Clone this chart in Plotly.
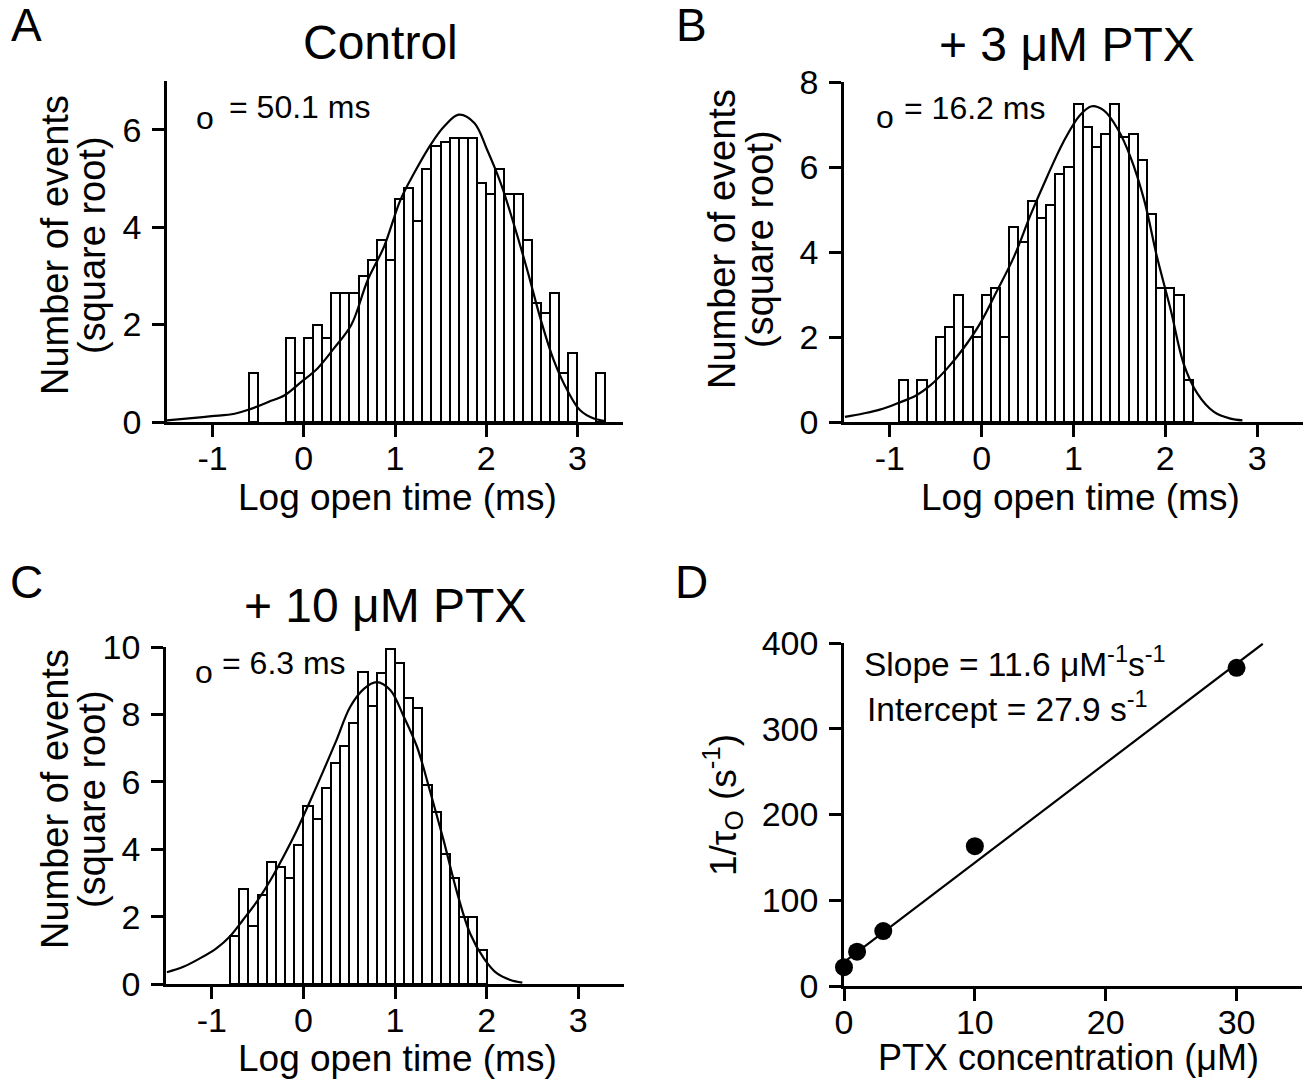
import plotly.graph_objects as go

# ---------------- data ----------------
# Panel A (Control): bin centres (log ms) and sqrt(counts)
a_x = [-0.55, -0.15, -0.05, 0.05, 0.15, 0.25, 0.35, 0.45, 0.55, 0.65, 0.75, 0.85, 0.95,
       1.05, 1.15, 1.25, 1.35, 1.45, 1.55, 1.65, 1.75, 1.85, 1.95, 2.05, 2.15, 2.25, 2.35,
       2.45, 2.55, 2.65, 2.75, 2.85, 2.95, 3.25]
a_y = [1.0, 1.73, 1.0, 1.73, 2.0, 1.73, 2.65, 2.65, 2.65, 3.0, 3.32, 3.74, 3.32,
       4.58, 4.80, 4.12, 5.20, 5.66, 5.74, 5.83, 5.83, 5.83, 4.90, 4.69, 5.20, 4.69, 4.69,
       3.74, 2.45, 2.24, 2.65, 1.0, 1.41, 1.0]
a_fit_x = [-1.51, -1.23, -1.01, -0.76, -0.58, -0.39, -0.21, -0.03, 0.15, 0.33, 0.52, 0.70,
           0.88, 1.06, 1.21, 1.39, 1.54, 1.70, 1.87, 2.01, 2.16, 2.30, 2.45, 2.60, 2.74,
           2.89, 3.03, 3.18, 3.31]
a_fit_y = [0.03, 0.08, 0.12, 0.17, 0.27, 0.41, 0.55, 0.82, 1.10, 1.51, 1.99, 2.91,
           3.60, 4.56, 5.11, 5.69, 6.07, 6.31, 6.14, 5.59, 4.90, 4.08, 3.12, 2.09, 1.27,
           0.65, 0.24, 0.07, 0.02]

# Panel B (+3 uM PTX)
b_x = [-0.85, -0.75, -0.65, -0.55, -0.45, -0.35, -0.25, -0.15, -0.05, 0.05, 0.15, 0.25,
       0.35, 0.45, 0.55, 0.65, 0.75, 0.85, 0.95, 1.05, 1.15, 1.25, 1.35, 1.45, 1.55,
       1.65, 1.75, 1.85, 1.95, 2.05, 2.15, 2.25]
b_y = [1.0, 0.0, 1.0, 0.0, 2.0, 2.24, 3.0, 2.24, 2.0, 3.0, 3.16, 2.0,
       4.58, 4.24, 5.20, 4.80, 5.10, 5.83, 6.0, 7.48, 6.93, 6.48, 6.78, 7.48, 6.71,
       6.78, 6.16, 4.90, 3.16, 3.16, 3.0, 1.0]
b_fit_x = [-1.49, -1.29, -1.11, -0.93, -0.71, -0.56, -0.38, -0.20, -0.02, 0.16, 0.35, 0.53,
           0.71, 0.89, 1.07, 1.20, 1.33, 1.48, 1.62, 1.77, 1.91, 2.06, 2.20, 2.35, 2.53,
           2.71, 2.84]
b_fit_y = [0.12, 0.20, 0.29, 0.43, 0.63, 0.86, 1.25, 1.73, 2.31, 3.06, 3.88, 4.86,
           5.76, 6.59, 7.22, 7.43, 7.33, 6.90, 6.24, 5.22, 3.88, 2.63, 1.37, 0.67, 0.24,
           0.08, 0.04]

# Panel C (+10 uM PTX)
c_x = [-0.75, -0.65, -0.55, -0.45, -0.35, -0.25, -0.15, -0.05, 0.05, 0.15, 0.25, 0.35,
       0.45, 0.55, 0.65, 0.75, 0.85, 0.95, 1.05, 1.15, 1.25, 1.35, 1.45, 1.55, 1.65,
       1.75, 1.85, 1.95]
c_y = [1.41, 2.83, 1.73, 2.65, 3.61, 3.46, 3.16, 4.12, 5.29, 4.90, 5.83, 6.56,
       7.07, 7.75, 9.27, 8.25, 9.22, 9.95, 9.54, 8.49, 8.19, 5.92, 5.10, 3.87, 3.16,
       2.0, 2.0, 1.0]
c_fit_x = [-1.49, -1.31, -1.13, -0.95, -0.80, -0.66, -0.51, -0.36, -0.22, -0.07, 0.07, 0.22,
           0.36, 0.51, 0.66, 0.80, 0.95, 1.09, 1.24, 1.38, 1.53, 1.68, 1.82, 1.97, 2.11,
           2.26, 2.39]
c_fit_y = [0.35, 0.51, 0.76, 1.06, 1.42, 1.90, 2.44, 3.08, 3.77, 4.57, 5.41, 6.34,
           7.23, 8.22, 8.76, 8.96, 8.72, 7.97, 7.04, 5.75, 4.27, 2.69, 1.50, 0.76, 0.32,
           0.12, 0.04]

# Panel D: 1/tau_o vs PTX concentration
d_conc = [0, 1, 3, 10, 30]
d_rate = [22, 40, 64, 163, 371]
d_fit_x = [0, 32]
d_fit_y = [27.9, 399.1]

hist_xticks = [-1, 0, 1, 2, 3]
hist_xticktext = ["-1", "0", "1", "2", "3"]
a_yticks = [0, 2, 4, 6]
b_yticks = [0, 2, 4, 6, 8]
c_yticks = [0, 2, 4, 6, 8, 10]
d_xticks = [0, 10, 20, 30]
d_yticks = [0, 100, 200, 300, 400]

# ---------------- figure ----------------
W, H = 1310, 1086
FONT = "Liberation Sans, Arial, Helvetica, sans-serif"


def fx(px):
    return px / W


def fy(py):
    return 1 - py / H


fig = go.Figure()

bar_style = dict(marker=dict(color="white", line=dict(color="black", width=2)),
                 width=0.1, showlegend=False, hoverinfo="skip")
fit_style = dict(mode="lines", line=dict(color="black", width=2.2, shape="spline"),
                 showlegend=False, hoverinfo="skip")

fig.add_trace(go.Bar(x=a_x, y=a_y, xaxis="x", yaxis="y", **bar_style))
fig.add_trace(go.Scatter(x=a_fit_x, y=a_fit_y, xaxis="x", yaxis="y", **fit_style))
fig.add_trace(go.Bar(x=b_x, y=b_y, xaxis="x2", yaxis="y2", **bar_style))
fig.add_trace(go.Scatter(x=b_fit_x, y=b_fit_y, xaxis="x2", yaxis="y2", **fit_style))
fig.add_trace(go.Bar(x=c_x, y=c_y, xaxis="x3", yaxis="y3", **bar_style))
fig.add_trace(go.Scatter(x=c_fit_x, y=c_fit_y, xaxis="x3", yaxis="y3", **fit_style))
fig.add_trace(go.Scatter(x=d_fit_x, y=d_fit_y, xaxis="x4", yaxis="y4", mode="lines",
                         line=dict(color="black", width=2.2), showlegend=False,
                         hoverinfo="skip", cliponaxis=False))
fig.add_trace(go.Scatter(x=d_conc, y=d_rate, xaxis="x4", yaxis="y4", mode="markers",
                         marker=dict(color="black", size=18), showlegend=False,
                         cliponaxis=False))

axis_common = dict(showline=True, linecolor="black", linewidth=2.5, ticks="outside",
                   ticklen=12, tickwidth=2.5, tickcolor="black", showgrid=False,
                   zeroline=False, tickfont=dict(size=34, color="black", family=FONT))
xstyle = dict(axis_common, ticklabelstandoff=-8)
ystyle = dict(axis_common, ticklabelstandoff=4)

doms = {
    "A": ((167, 623), (81, 422)),
    "B": ((844, 1303), (82, 422)),
    "C": ((166, 624), (647, 984)),
    "D": ((844, 1302), (643, 986)),
}


def xd(k):
    return [fx(doms[k][0][0]), fx(doms[k][0][1])]


def yd(k):
    return [fy(doms[k][1][1]), fy(doms[k][1][0])]


fig.update_layout(
    width=W, height=H, margin=dict(l=0, r=0, t=0, b=0, autoexpand=False),
    paper_bgcolor="white", plot_bgcolor="white", bargap=0,
    font=dict(family=FONT, color="black"),
    xaxis=dict(domain=xd("A"), anchor="y", range=[-1.5, 3.5], tickvals=hist_xticks,
               ticktext=hist_xticktext, **xstyle),
    yaxis=dict(domain=yd("A"), anchor="x", range=[0, 7], tickvals=a_yticks, **ystyle),
    xaxis2=dict(domain=xd("B"), anchor="y2", range=[-1.5, 3.5], tickvals=hist_xticks,
                ticktext=hist_xticktext, **xstyle),
    yaxis2=dict(domain=yd("B"), anchor="x2", range=[0, 8], tickvals=b_yticks, **ystyle),
    xaxis3=dict(domain=xd("C"), anchor="y3", range=[-1.5, 3.5], tickvals=hist_xticks,
                ticktext=hist_xticktext, **xstyle),
    yaxis3=dict(domain=yd("C"), anchor="x3", range=[0, 10], tickvals=c_yticks, **ystyle),
    xaxis4=dict(domain=xd("D"), anchor="y4", range=[0, 35], tickvals=d_xticks, **xstyle),
    yaxis4=dict(domain=yd("D"), anchor="x4", range=[0, 400], tickvals=d_yticks, **ystyle),
)

ann = []


def text(px, py, s, size, xanchor="center", yanchor="middle", angle=0):
    ann.append(dict(x=fx(px), y=fy(py), xref="paper", yref="paper", text=s,
                    showarrow=False, xanchor=xanchor, yanchor=yanchor, textangle=angle,
                    font=dict(size=size, color="black", family=FONT)))


# panel letters
text(26, 25, "A", 46)
text(692, 25, "B", 46)
text(26, 582, "C", 46)
text(692, 582, "D", 46)
# titles
text(380, 42, "Control", 48)
text(1067, 45, "+ 3 μM PTX", 48)
text(385, 605, "+ 10 μM PTX", 48)
# tau annotations
text(205, 118, "o", 32)
text(227, 107, "= 50.1 ms", 32, xanchor="left")
text(885, 117, "o", 32)
text(902, 108, "= 16.2 ms", 32, xanchor="left")
text(204, 672, "o", 32)
text(220, 663, "= 6.3 ms", 32, xanchor="left")
# D annotations
text(862, 662, "Slope = 11.6 μM<sup>-1</sup>s<sup>-1</sup>", 33.5, xanchor="left")
text(865, 707, "Intercept = 27.9 s<sup>-1</sup>", 33.5, xanchor="left")
# axis titles
for cx, cy in [(397, 497), (1080, 497), (397, 1058)]:
    text(cx, cy, "Log open time (ms)", 37)
text(1068, 1057, "PTX concentration (μM)", 36)
for x1, x2, cy in [(55, 92, 245), (722, 760, 239), (55, 92, 799)]:
    text(x1, cy, "Number of events", 38, angle=-90)
    text(x2, cy, "(square root)", 38, angle=-90)
text(722, 805, "1/τ<sub>O</sub> (s<sup>-1</sup>)", 37, angle=-90)

fig.update_layout(annotations=ann)

fig.write_html("out.html", config={"displayModeBar": False},
               post_script="document.body.style.margin='0px';document.body.style.padding='0px';")
